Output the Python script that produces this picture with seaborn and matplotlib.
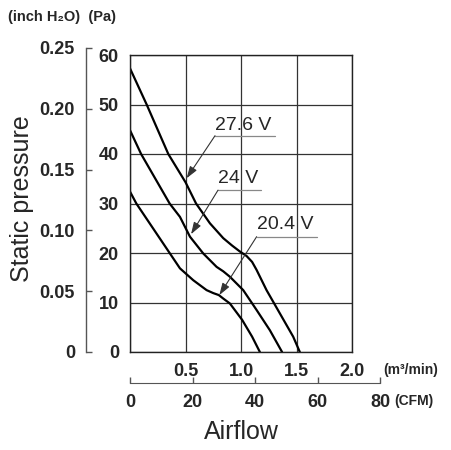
import numpy as np
import pandas as pd
import matplotlib
matplotlib.use("Agg")
import matplotlib.pyplot as plt
import seaborn as sns
from matplotlib import font_manager

# curves: airflow (m3/min) vs static pressure (Pa)
v276_flow = [0, 0.15, 0.345, 0.50, 0.595, 0.72, 0.84, 0.92, 0.99, 1.05, 1.10, 1.14, 1.23, 1.35, 1.47, 1.53]
v276_pa = [57.3, 50, 40, 34.3, 30, 26, 23, 21.5, 20.3, 19.4, 18.2, 16.6, 12.5, 7.8, 3.1, 0]
v24_flow = [0, 0.10, 0.357, 0.45, 0.54, 0.66, 0.78, 0.84, 0.90, 1.02, 1.14, 1.26, 1.37]
v24_pa = [44.8, 40, 30, 27.3, 23.3, 19.9, 17.2, 16.3, 15.2, 12.5, 8.5, 4.4, 0]
v204_flow = [0, 0.057, 0.45, 0.57, 0.69, 0.75, 0.80, 0.84, 0.90, 1.01, 1.10, 1.17]
v204_pa = [32.4, 30, 16.9, 14.5, 12.5, 11.9, 11.5, 10.8, 9.8, 6.5, 3.1, 0]
voltages = ["27.6 V", "24 V", "20.4 V"]

pa_ticks = [0, 10, 20, 30, 40, 50, 60]
inch_ticks = [0, 0.05, 0.10, 0.15, 0.20, 0.25]
inch_labels = ["0", "0.05", "0.10", "0.15", "0.20", "0.25"]
m3_ticks = [0.5, 1.0, 1.5, 2.0]
m3_labels = ["0.5", "1.0", "1.5", "2.0"]
cfm_ticks = [0, 20, 40, 60, 80]

df = pd.concat([
    pd.DataFrame({"flow": v276_flow, "pa": v276_pa, "voltage": voltages[0]}),
    pd.DataFrame({"flow": v24_flow, "pa": v24_pa, "voltage": voltages[1]}),
    pd.DataFrame({"flow": v204_flow, "pa": v204_pa, "voltage": voltages[2]}),
])

sns.set_style("white")
installed = {f.name for f in font_manager.fontManager.ttflist}
narrow = "Liberation Sans Narrow" if "Liberation Sans Narrow" in installed else "Liberation Sans"
plt.rcParams["font.family"] = ["Liberation Sans", "DejaVu Sans"]

W, H = 451, 450
fig = plt.figure(figsize=(W / 100, H / 100), dpi=100)

def px_box(x0, y0, x1, y1):
    # pixel box (top-left origin) -> figure fraction
    return [x0 / W, 1 - y1 / H, (x1 - x0) / W, (y1 - y0) / H]

ax = fig.add_axes(px_box(130, 55, 352, 352))
sns.lineplot(data=df, x="flow", y="pa", hue="voltage", sort=False, estimator=None,
             palette=["black"] * 3, linewidth=1.6, legend=False, ax=ax)
ax.set_xlim(0, 2.0)
ax.set_ylim(0, 60)
ax.set_xticks([0] + m3_ticks)
ax.set_xticklabels([""] + m3_labels)
ax.set_yticks(pa_ticks)
ax.grid(True, color="#333333", linewidth=0.9)
for s in ax.spines.values():
    s.set_color("#222222")
    s.set_linewidth(1.0)
ax.tick_params(length=0, labelsize=13, pad=8)
for lab in ax.get_xticklabels() + ax.get_yticklabels():
    lab.set_fontfamily(narrow)
    lab.set_fontweight("bold")
ax.set_xlabel("")
ax.set_ylabel("")

# voltage labels with leader arrows
notes = [
    ("27.6 V", (0.766, 43.9), (1.306, 43.7), (0.51, 35.1)),
    ("24 V", (0.793, 33.2), (1.183, 32.7), (0.55, 23.8)),
    ("20.4 V", (1.141, 23.8), (1.682, 23.3), (0.805, 11.5)),
]
for txt, (tx, ty), (ux, uy), tip in notes:
    ax.text(tx, ty + 0.2, txt, fontsize=14, ha="left", va="bottom")
    ax.plot([tx, ux], [uy, uy], color="#888888", linewidth=0.9)
    ax.annotate("", xy=tip, xytext=(tx, uy),
                arrowprops=dict(arrowstyle="-|>,head_length=0.6,head_width=0.2",
                                color="#333333", lw=0.8,
                                mutation_scale=12, shrinkA=0, shrinkB=0))

# inch H2O axis
ax_in = fig.add_axes(px_box(86, 48, 100, 352))
ax_in.set_ylim(0, 0.25)
ax_in.set_yticks(inch_ticks)
ax_in.set_yticklabels(inch_labels)
ax_in.set_xticks([])
for k in ["top", "right", "bottom"]:
    ax_in.spines[k].set_visible(False)
ax_in.spines["left"].set_color("#555555")
ax_in.spines["left"].set_linewidth(1.0)
ax_in.patch.set_alpha(0)
ax_in.tick_params(axis="y", left=True, direction="in", length=4.5, width=1.0,
                  color="#555555", labelsize=13, pad=8)
for lab in ax_in.get_yticklabels():
    lab.set_fontfamily(narrow)
    lab.set_fontweight("bold")

# CFM axis
ax_cfm = fig.add_axes(px_box(130, 372, 380, 383))
ax_cfm.set_xlim(0, 80)
ax_cfm.set_xticks(cfm_ticks)
ax_cfm.set_yticks([])
for k in ["top", "right", "left"]:
    ax_cfm.spines[k].set_visible(False)
ax_cfm.spines["bottom"].set_color("#555555")
ax_cfm.patch.set_alpha(0)
ax_cfm.tick_params(axis="x", bottom=True, direction="in", length=4, width=1.0,
                   color="#555555", labelsize=13, pad=8)
for lab in ax_cfm.get_xticklabels():
    lab.set_fontfamily(narrow)
    lab.set_fontweight("bold")

# unit labels and titles
fig.text(383 / W, 1 - 370 / H, "(m³/min)", fontsize=10, fontweight="bold", va="center", ha="left")
fig.text(394 / W, 1 - 401 / H, "(CFM)", fontsize=10, fontweight="bold", va="center", ha="left")
fig.text(8 / W, 1 - 17 / H, "(inch H₂O)  (Pa)", fontsize=10.5, fontweight="bold", va="center", ha="left")
fig.text(241 / W, 1 - 432 / H, "Airflow", fontsize=18, va="center", ha="center")
fig.text(22 / W, 1 - 199 / H, "Static pressure", fontsize=18, va="center", ha="center",
         rotation=90)

fig.savefig("out.png", dpi=100)
